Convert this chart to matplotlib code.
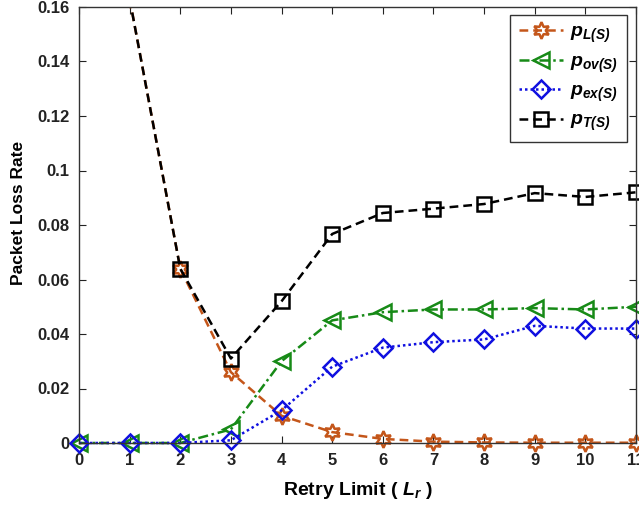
import numpy as np
import matplotlib
matplotlib.use("Agg")
import matplotlib.pyplot as plt
from matplotlib.transforms import Bbox, TransformedBbox

plt.rcParams['font.family'] = ['Liberation Sans', 'DejaVu Sans']
plt.rcParams['mathtext.fontset'] = 'custom'
plt.rcParams['mathtext.it'] = 'Liberation Sans:italic:bold'
plt.rcParams['mathtext.rm'] = 'Liberation Sans:italic:bold'
plt.rcParams['mathtext.bf'] = 'Liberation Sans:italic:bold'

retry = [0, 1, 2, 3, 4, 5, 6, 7, 8, 9, 10, 11]
p_L = [0.25, 0.163, 0.064, 0.026, 0.010, 0.004, 0.0015, 0.0005, 0.0002, 0.0001, 0.0001, 0.0001]
p_ov = [0.0, 0.0, 0.0, 0.005, 0.030, 0.045, 0.048, 0.049, 0.049, 0.0495, 0.049, 0.050]
p_ex = [0.0, 0.0, 0.0, 0.001, 0.012, 0.028, 0.035, 0.037, 0.038, 0.043, 0.042, 0.042]
p_T = [0.25, 0.163, 0.064, 0.031, 0.052, 0.0767, 0.0844, 0.086, 0.0877, 0.0917, 0.0903, 0.092]

labels = [r'$p_{L(S)}$', r'$p_{ov(S)}$', r'$p_{ex(S)}$', r'$p_{T(S)}$']
yticks = [0, 0.02, 0.04, 0.06, 0.08, 0.1, 0.12, 0.14, 0.16]

fig = plt.figure(figsize=(6.39, 5.12), dpi=100)
ax = fig.add_axes([79/639, 69/512, (636-79)/639, (443-7)/512])

styles = [
    dict(color='#C4561A', linestyle=(0, (3.5, 2)), marker=(6, 1, 0), markersize=12),
    dict(color='#178A17', linestyle=(0, (4, 1.5, 1, 1.5)), marker='<', markersize=11),
    dict(color='#1010E0', linestyle=(0, (1, 1.2)), marker='D', markersize=9),
    dict(color='black', linestyle=(0, (3.5, 2)), marker='s', markersize=10),
]
series = [p_L, p_ov, p_ex, p_T]
clipbox = TransformedBbox(Bbox([[-0.05, -0.1], [1.05, 1.0]]), ax.transAxes)
handles = []
for vals, st, lab in zip(series, styles, labels):
    ln, = ax.plot(retry, vals, linewidth=1.8, markerfacecolor='none',
                  markeredgewidth=1.8, label=lab, **st)
    ln.set_clip_box(clipbox)
    handles.append(ln)

ax.set_xlim(0, 11)
ax.set_ylim(0, 0.16)
ax.set_xticks(retry)
ax.set_yticks(yticks)
ax.set_yticklabels(['%g' % t for t in yticks])
ax.tick_params(direction='in', length=5, top=True, right=True,
               labelsize=12, pad=7, colors='#222222')
for lbl in ax.get_xticklabels() + ax.get_yticklabels():
    lbl.set_fontweight('bold')
for sp in ax.spines.values():
    sp.set_color('#333333')
    sp.set_linewidth(1.0)

ax.set_xlabel(r'Retry Limit ( $L_r$ )', fontsize=14, fontweight='bold')
ax.set_ylabel('Packet Loss Rate', fontsize=12.5, fontweight='bold')
ax.xaxis.set_label_coords(0.5, -0.085)
ax.yaxis.set_label_coords(-0.095, 0.527)

leg = ax.legend(handles=handles, loc='upper right', fontsize=14,
                bbox_to_anchor=(0.984, 0.982), handlelength=2.3,
                handletextpad=0.35, labelspacing=0.4, borderpad=0.45,
                borderaxespad=0.0, fancybox=False, framealpha=1)
leg.get_frame().set_edgecolor('#333333')
leg.get_frame().set_linewidth(1.0)

fig.savefig('out.png', dpi=100)
